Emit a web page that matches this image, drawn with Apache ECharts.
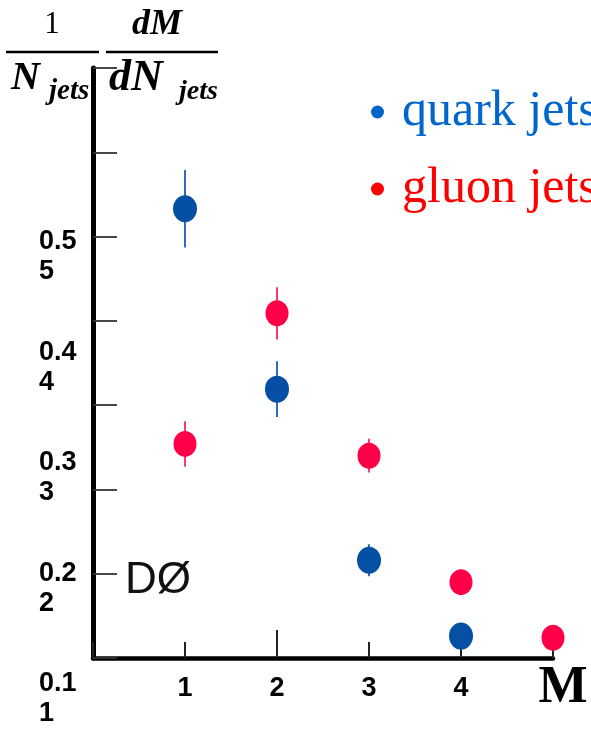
<!DOCTYPE html>
<html>
<head>
<meta charset="utf-8">
<script src="https://cdn.jsdelivr.net/npm/echarts@6/dist/echarts.min.js"></script>
<style>
  html, body { margin: 0; padding: 0; background: #fff; }
  #chart { width: 591px; height: 729px; }
</style>
</head>
<body>
<div id="chart"></div>
<script>
// subjet multiplicity M
const multiplicity = [1, 2, 3, 4, 5];
// 1/N dN/dM
const quarkValues = [0.533, 0.319, 0.116, 0.026];
const quarkErrors = [0.046, 0.033, 0.019, 0.008];
const gluonValues = [0.254, 0.409, 0.240, 0.090, 0.024];
const gluonErrors = [0.027, 0.031, 0.020, 0.010, 0.008];
// the odd tick labels printed beside the y axis
const sideLabels = [0.1, 0.2, 0.3, 0.4, 0.5];

const quarkColor = '#0550a5';
const gluonColor = '#ff0048';

const pts = (vals) => vals.map((v, i) => [multiplicity[i], v]);
const errs = (vals, e) => vals.map((v, i) => [multiplicity[i], v - e[i], v + e[i]]);

function errorBar(color) {
  return function (params, api) {
    const lo = api.coord([api.value(0), api.value(1)]);
    const hi = api.coord([api.value(0), api.value(2)]);
    return {
      type: 'line',
      shape: { x1: lo[0], y1: lo[1], x2: hi[0], y2: hi[1] },
      style: { stroke: color, lineWidth: 2 }
    };
  };
}

const chart = echarts.init(document.getElementById('chart'));

const serif = 'Liberation Serif';
const bi = { fontFamily: serif, fontStyle: 'italic', fontWeight: 'bold', fill: '#000' };

chart.setOption({
  animation: false,
  grid: [
    { left: 93, top: 68, right: 38, bottom: 71 },
    { left: 39, top: 257, width: 10, bottom: 27 }
  ],
  xAxis: [
    {
      gridIndex: 0, type: 'value', min: 0, max: 5, interval: 1,
      axisLine: { lineStyle: { color: '#000', width: 4.5 } },
      axisTick: { inside: true, length: 16, lineStyle: { color: '#222', width: 2 } },
      axisLabel: {
        margin: 17, fontFamily: 'Liberation Sans', fontWeight: 'bold', fontSize: 27, color: '#000',
        formatter: (v) => (v >= 1 && v <= 4 ? String(v) : '')
      },
      splitLine: { show: false }
    },
    {
      gridIndex: 0, type: 'value', min: 0, max: 5, position: 'bottom',
      axisLine: { show: false },
      axisTick: { inside: true, length: 28, customValues: [2], lineStyle: { color: '#222', width: 2 } },
      axisLabel: { show: false },
      splitLine: { show: false }
    },
    { gridIndex: 1, type: 'value', show: false }
  ],
  yAxis: [
    {
      gridIndex: 0, type: 'value', min: 0, max: 0.7, interval: 0.1,
      axisLine: { show: true, lineStyle: { color: '#000', width: 5 } },
      axisTick: { show: true, inside: true, length: 24, lineStyle: { color: '#333', width: 1.8 } },
      axisLabel: { show: false },
      splitLine: { show: false }
    },
    {
      gridIndex: 1, type: 'value', min: sideLabels[0], max: sideLabels[sideLabels.length - 1], interval: 0.1,
      axisLine: { show: false },
      axisTick: { show: false },
      splitLine: { show: false },
      axisLabel: {
        inside: true, margin: 0, align: 'left',
        fontFamily: 'Liberation Sans', fontWeight: 'bold', fontSize: 27, lineHeight: 30, color: '#000',
        formatter: (v) => v.toFixed(1) + '\n' + Math.round(v * 10)
      }
    }
  ],
  legend: {
    orient: 'vertical', left: 366, top: 82, itemGap: 27,
    icon: 'circle', itemWidth: 13, itemHeight: 13, selectedMode: false,
    textStyle: { fontFamily: serif, fontSize: 50, lineHeight: 50, padding: [0, 0, 0, 13] },
    data: [
      { name: 'quark jets', itemStyle: { color: '#0066cc' }, textStyle: { color: '#0066cc' } },
      { name: 'gluon jets', itemStyle: { color: '#ff0000' }, textStyle: { color: '#ff0000' } }
    ]
  },
  graphic: [
    // y-axis title: 1/N_jets dM/dN_jets
    { type: 'text', x: 52, y: 25, style: { text: '1', fontFamily: serif, fontSize: 31, fill: '#000', align: 'center', verticalAlign: 'middle' } },
    { type: 'line', shape: { x1: 6, y1: 52, x2: 99, y2: 52 }, style: { stroke: '#000', lineWidth: 2.5 } },
    { type: 'text', x: 157, y: 25, style: Object.assign({ text: 'dM', fontSize: 36, align: 'center', verticalAlign: 'middle' }, bi) },
    { type: 'line', shape: { x1: 106, y1: 52, x2: 218, y2: 52 }, style: { stroke: '#000', lineWidth: 2.5 } },
    { type: 'text', x: 11, y: 79, style: Object.assign({ text: 'N', fontSize: 40, verticalAlign: 'middle' }, bi) },
    { type: 'text', x: 49, y: 92, style: Object.assign({ text: 'jets', fontSize: 29, verticalAlign: 'middle' }, bi) },
    { type: 'text', x: 109, y: 79, style: Object.assign({ text: 'dN', fontSize: 44, verticalAlign: 'middle' }, bi) },
    { type: 'text', x: 179, y: 92, style: Object.assign({ text: 'jets', fontSize: 28, verticalAlign: 'middle' }, bi) },
    // x-axis title
    { type: 'text', x: 563, y: 689, style: { text: 'M', fontFamily: serif, fontWeight: 'bold', fontSize: 52, fill: '#000', align: 'center', verticalAlign: 'middle' } },
    { type: 'text', x: 125, y: 581, style: { text: 'DØ', fontFamily: 'Liberation Sans', fontSize: 44, fill: '#111', verticalAlign: 'middle' } }
  ],
  series: [
    {
      name: 'quark err', type: 'custom', xAxisIndex: 0, yAxisIndex: 0,
      renderItem: errorBar('#2f6cbf'), data: errs(quarkValues, quarkErrors), silent: true
    },
    {
      name: 'gluon err', type: 'custom', xAxisIndex: 0, yAxisIndex: 0,
      renderItem: errorBar('#ff3a6a'), data: errs(gluonValues, gluonErrors), silent: true
    },
    {
      name: 'quark jets', type: 'scatter', xAxisIndex: 0, yAxisIndex: 0,
      symbol: 'circle', symbolSize: [24, 27], itemStyle: { color: quarkColor, opacity: 1 },
      data: pts(quarkValues)
    },
    {
      name: 'gluon jets', type: 'scatter', xAxisIndex: 0, yAxisIndex: 0,
      symbol: 'circle', symbolSize: [23, 26], itemStyle: { color: gluonColor, opacity: 1 },
      data: pts(gluonValues)
    }
  ]
});
</script>
</body>
</html>
